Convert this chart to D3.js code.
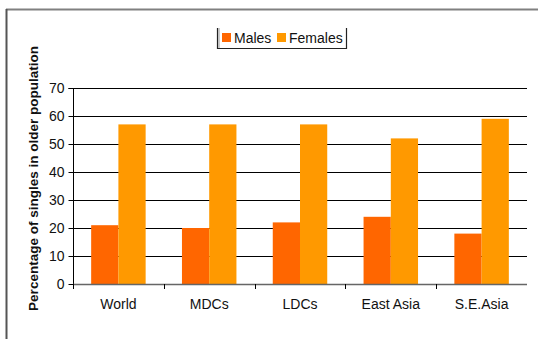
<!DOCTYPE html>
<html>
<head>
<meta charset="utf-8">
<script src="https://cdn.jsdelivr.net/npm/d3@7"></script>
<style>
  html, body { margin: 0; padding: 0; background: #fff; }
  svg { display: block; font-family: "Liberation Sans", Arial, sans-serif; }
</style>
</head>
<body>
<svg id="chart" width="538" height="339"></svg>
<script>
// Share of singles among the older population, by region and sex
const categories = ["World", "MDCs", "LDCs", "East Asia", "S.E.Asia"];
const seriesNames = ["Males", "Females"];
const males = [21, 20, 22, 24, 18];
const females = [57, 57, 57, 52, 59];
const yTicks = [0, 10, 20, 30, 40, 50, 60, 70];
const yLabel = "Percentage of singles in older population";

const colors = { Males: "#FF6600", Females: "#FF9900" };
const seriesValues = { Males: males, Females: females };

const svg = d3.select("#chart");
const W = 538, H = 339;
const plot = { left: 73, right: 527, top: 88, bottom: 284 };
const FS = 14;

// Outer frame (top and left edges)
svg.append("line").attr("x1", 6).attr("x2", W).attr("y1", 9.5).attr("y2", 9.5)
  .attr("stroke", "#808080").attr("stroke-width", 2);
svg.append("line").attr("x1", 6.5).attr("x2", 6.5).attr("y1", 9).attr("y2", H)
  .attr("stroke", "#555").attr("stroke-width", 2);

const x = d3.scaleBand().domain(categories).range([plot.left, plot.right]).paddingInner(0.4).paddingOuter(0.2);
const xs = d3.scaleBand().domain(seriesNames).range([0, x.bandwidth()]);
const y = d3.scaleLinear().domain([0, 70]).range([plot.bottom, plot.top]);

// Gridlines
svg.append("g").selectAll("line").data(yTicks.filter(t => t > 0)).join("line")
  .attr("x1", plot.left).attr("x2", plot.right)
  .attr("y1", d => Math.round(y(d)) + 0.5).attr("y2", d => Math.round(y(d)) + 0.5)
  .attr("stroke", "#000").attr("stroke-width", 1);

// Bars
const groups = svg.append("g").selectAll("g").data(categories).join("g")
  .attr("transform", d => `translate(${x(d)},0)`);
groups.selectAll("rect").data((c, i) => seriesNames.map(s => ({ s, v: seriesValues[s][i] }))).join("rect")
  .attr("x", d => xs(d.s)).attr("width", xs.bandwidth())
  .attr("y", d => y(d.v)).attr("height", d => y(0) - y(d.v))
  .attr("fill", d => colors[d.s]);

// Y axis
const yAxis = d3.axisLeft(y).tickValues(yTicks).tickSize(5).tickPadding(4);
const gy = svg.append("g").attr("transform", `translate(${plot.left + 0.5},0)`).call(yAxis);
gy.select(".domain").attr("d", `M-5,${plot.top + 0.5}H0V${plot.bottom}`).attr("stroke", "#000");
gy.selectAll(".tick line").attr("stroke", "#000");
gy.selectAll(".tick text").attr("font-size", FS).attr("fill", "#111")
  .attr("font-family", "'Liberation Sans', Arial, sans-serif");

// X axis (category separators below the baseline)
const xAxisG = svg.append("g");
xAxisG.append("line").attr("x1", plot.left).attr("x2", plot.right)
  .attr("y1", plot.bottom + 0.5).attr("y2", plot.bottom + 0.5)
  .attr("stroke", "#666").attr("stroke-width", 1.5);
const sepPositions = categories.slice(1).map(c => x(c) - x.step() * x.paddingInner() / 2);
xAxisG.selectAll("line.sep").data(sepPositions).join("line").attr("class", "sep")
  .attr("x1", d => Math.round(d) + 0.5).attr("x2", d => Math.round(d) + 0.5)
  .attr("y1", plot.bottom).attr("y2", plot.bottom + 5).attr("stroke", "#000");
xAxisG.append("line").attr("x1", plot.left + 0.5).attr("x2", plot.left + 0.5)
  .attr("y1", plot.bottom).attr("y2", plot.bottom + 5).attr("stroke", "#000");
xAxisG.selectAll("text").data(categories).join("text")
  .attr("x", d => x(d) + x.bandwidth() / 2).attr("y", 309)
  .attr("text-anchor", "middle").attr("font-size", FS).attr("fill", "#111")
  .text(d => d);

// Y axis title
svg.append("text")
  .attr("transform", `translate(37.5,${(45 + 312) / 2}) rotate(-90)`)
  .attr("text-anchor", "middle").attr("font-size", 13.5).attr("font-weight", "bold")
  .attr("fill", "#111").text(yLabel);

// Legend
const lg = svg.append("g");
lg.append("path").attr("d", "M217.5,28V48.5H346.5V28").attr("fill", "none")
  .attr("stroke", "#222").attr("stroke-width", 1.2);
lg.append("line").attr("x1", 219).attr("x2", 219).attr("y1", 28).attr("y2", 48)
  .attr("stroke", "#999").attr("stroke-width", 1);
const legendItems = [{ s: "Males", x: 222 }, { s: "Females", x: 277 }];
legendItems.forEach(it => {
  lg.append("rect").attr("x", it.x).attr("y", 33).attr("width", 9).attr("height", 9)
    .attr("fill", colors[it.s]);
  lg.append("text").attr("x", it.x + 12).attr("y", 43).attr("font-size", FS)
    .attr("fill", "#111").text(it.s);
});
</script>
</body>
</html>
